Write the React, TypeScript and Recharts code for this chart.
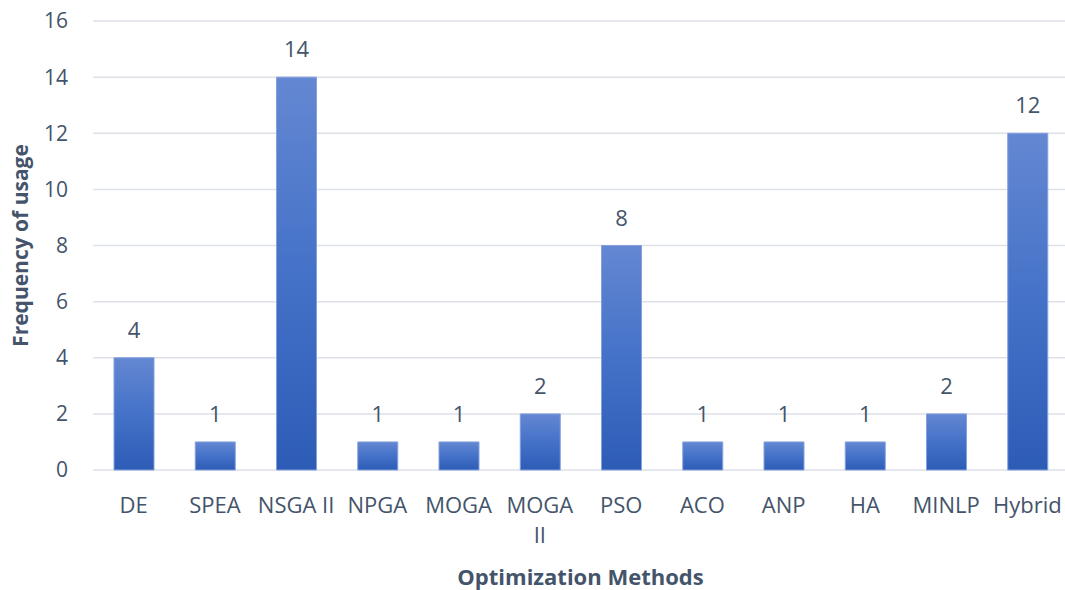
import React from 'react';
import { BarChart, Bar, XAxis, YAxis, CartesianGrid, LabelList } from 'recharts';

const methods = ['DE', 'SPEA', 'NSGA II', 'NPGA', 'MOGA', 'MOGA II', 'PSO', 'ACO', 'ANP', 'HA', 'MINLP', 'Hybrid'];
const usage = [4, 1, 14, 1, 1, 2, 8, 1, 1, 1, 2, 12];
const tickLines: Record<string, string[]> = { 'MOGA II': ['MOGA', 'II'] };
const yTicks = [0, 2, 4, 6, 8, 10, 12, 14, 16];

const data = methods.map((m, i) => ({ method: m, value: usage[i] }));

const TEXT = '#44546a';
const FONT = '"Open Sans", sans-serif';

const XTick = (props: any) => {
  const { x, y, payload } = props;
  const lines = tickLines[payload.value] || [payload.value];
  return (
    <text x={x} y={y + 43} textAnchor="middle" fill={TEXT} fontSize={22} fontFamily={FONT}>
      {lines.map((l: string, i: number) => (
        <tspan key={i} x={x} dy={i === 0 ? 0 : 30}>{l}</tspan>
      ))}
    </text>
  );
};

export default function App() {
  return (
    <div style={{ position: 'absolute', left: 0, top: 0, width: 1065, height: 590, overflow: 'hidden', background: '#fff' }}>
      <BarChart width={1068} height={590} data={data} margin={{ top: 21, right: 0, left: 0, bottom: 0 }}>
        <defs>
          <linearGradient id="barGrad" x1="0" y1="0" x2="0" y2="1">
            <stop offset="0%" stopColor="#6487d2" />
            <stop offset="50%" stopColor="#4472c8" />
            <stop offset="100%" stopColor="#2d5cb7" />
          </linearGradient>
        </defs>
        <CartesianGrid vertical={false} stroke="#dde1e8" strokeWidth={1.5} />
        <XAxis
          dataKey="method"
          axisLine={false}
          tickLine={false}
          tickSize={0}
          tickMargin={0}
          height={120}
          interval={0}
          tick={<XTick />}
          label={{ value: 'Optimization Methods', position: 'insideBottom', offset: 5, fill: TEXT, fontSize: 22, fontWeight: 'bold', fontFamily: FONT }}
        />
        <YAxis
          width={93}
          domain={[0, 16]}
          ticks={yTicks}
          axisLine={false}
          tickLine={false}
          tickMargin={19}
          tick={{ fill: TEXT, fontSize: 21, fontFamily: FONT }}
          label={(p: any) => {
            const vb = p.viewBox || { x: 0, y: 21, width: 93, height: 449 };
            const cy = vb.y + vb.height / 2;
            return (
              <text x={20} y={cy} transform={`rotate(-90, 20, ${cy})`} textAnchor="middle" dominantBaseline="central" fill={TEXT} fontSize={21} fontWeight="bold" fontFamily={FONT}>
                Frequency of usage
              </text>
            );
          }}
        />
        <Bar dataKey="value" barSize={40} fill="url(#barGrad)" stroke="#85a0dc" strokeWidth={1} isAnimationActive={false}>
          <LabelList dataKey="value" position="top" offset={20} fill={TEXT} fontSize={22} fontFamily={FONT} />
        </Bar>
      </BarChart>
    </div>
  );
}
